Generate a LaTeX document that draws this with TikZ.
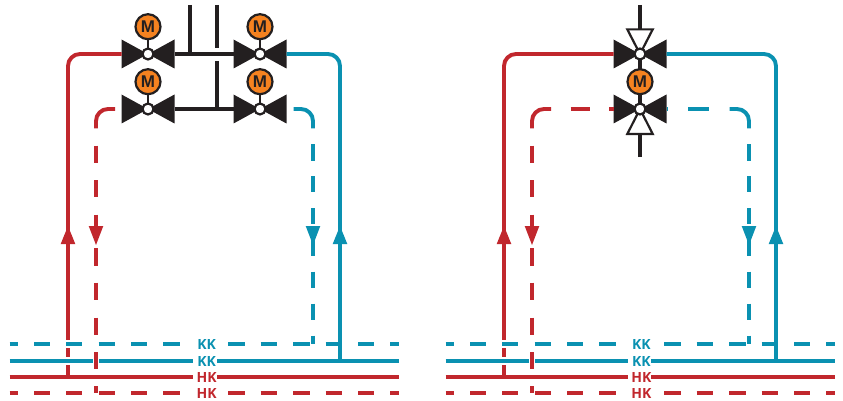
\documentclass[tikz,border=0pt]{standalone}
\usepackage{fontspec}
\setmainfont{Liberation Sans}
\newfontfamily\labelfont{Open Sans}
\definecolor{pipered}{HTML}{C1272D}
\definecolor{pipeblue}{HTML}{0A91B1}
\definecolor{valvedark}{HTML}{231F20}
\definecolor{motororange}{HTML}{F58220}
\tikzset{
  redline/.style={draw=pipered,line width=3.9pt},
  blueline/.style={draw=pipeblue,line width=3.9pt},
  blackline/.style={draw=valvedark,line width=3.6pt},
  stem/.style={draw=valvedark,line width=2.8pt},
  halo/.style={draw=white,line width=8pt},
  valvebody/.style={rectangle,inner sep=0pt,outer sep=0pt,minimum width=53pt,minimum height=29pt,
    path picture={\fill[valvedark] (path picture bounding box.north west)--(path picture bounding box.south east)--(path picture bounding box.north east)--(path picture bounding box.south west)--cycle;}},
  hub/.style={circle,draw=valvedark,fill=white,line width=2.2pt,inner sep=0pt,minimum size=11pt},
  motor/.style={circle,draw=valvedark,fill=motororange,line width=2.2pt,inner sep=0pt,minimum size=25pt,
    font=\fontsize{17}{17}\selectfont\bfseries,text=valvedark},
  tag/.style={inner sep=0pt,font=\labelfont\fontsize{14}{14}\selectfont\bfseries},
  smallvalve/.style={draw=valvedark,fill=white,line width=2.2pt,line join=miter},
  corner/.style={rounded corners=12pt},
}
\begin{document}
\begin{tikzpicture}[x=1pt,y=-1pt]
\useasboundingbox (0,0) rectangle (843,401);
% ---- valve bodies, referred to by the pipes
\node[valvebody] (v1) at (148,54) {};
\node[valvebody] (v2) at (260,54) {};
\node[valvebody] (v3) at (148,109) {};
\node[valvebody] (v4) at (260,109) {};
\node[valvebody] (v5) at (640,54) {};
\node[valvebody] (v6) at (640,109) {};
% ---- pipes of both panels
\foreach \s/\vr/\vb in {0/v1/v2,436/v5/v5}{
  \coordinate (hk\s) at (68+\s,377);
  \coordinate (kk\s) at (340+\s,361);
  \draw[redline,corner] (hk\s) |- (\vr.west);
  \fill[pipered] (60.7+\s,244) -- (68+\s,226) -- (75.3+\s,244) -- cycle;
  \draw[halo] (64+\s,344) -- (72+\s,344);
  \draw[halo] (64+\s,361) -- (72+\s,361);
  \foreach \a/\b in {9.5/17.5,34/50,66.3/82.3,98.7/115,131/147,163.3/180,228/244.7,260.7/277,293/309.7,325.7/342,358/374.3,390.3/399}{
    \draw[blueline] (\a+\s,344) -- (\b+\s,344);
    \draw[redline] (\a+\s,393) -- (\b+\s,393);
  }
  \draw[blueline] (9.5+\s,361) -- (193+\s-1.5*\s/436,361);
  \draw[blueline] (217+\s-2*\s/436,361) -- (399+\s,361);
  \draw[redline] (9.5+\s,377) -- (193+\s-1.5*\s/436,377);
  \draw[redline] (217+\s-2*\s/436,377) -- (399+\s,377);
  \node[tag,text=pipeblue] (a\s) at (206.6+\s-1.2*\s/436,344.5) {KK};
  \node[tag,text=pipeblue] (b\s) at (206.6+\s-1.2*\s/436,361.2) {KK};
  \node[tag,text=pipered] (c\s) at (206.6+\s-1.2*\s/436,377.5) {HK};
  \node[tag,text=pipered] (d\s) at (206.6+\s-1.2*\s/436,393.6) {HK};
  % dashed red return
  \foreach \a/\b in {145.7/162.7,180/197.3,214.7/226,248.3/266,282.7/300,317.7/334.7,386/393.3}{
    \draw[redline] (96+\s,\a) -- (96+\s,\b);
  }
  \draw[draw=white,line width=6pt] (96+\s,357) -- (96+\s,364.5);
  \draw[redline] (96+\s,352) -- (96+\s,369);
  \fill[pipered] (88.7+\s,226) -- (103.3+\s,226) -- (96+\s,245) -- cycle;
  \coordinate (ra\s) at (115+\s,109);
  \coordinate (rb\s) at (96+\s,128.3);
  \draw[redline,corner] (ra\s) -| (rb\s);
  % dashed blue return
  \foreach \a/\b in {144.3/161,176.3/192,208.3/224,226/255.7,271.7/287.7,303.7/319.7,335.7/343.5}{
    \draw[blueline] (313+\s,\a) -- (313+\s,\b);
  }
  \fill[pipeblue] (305.7+\s,226) -- (320.3+\s,226) -- (313+\s,245) -- cycle;
  \coordinate (ba\s) at (293.5+\s,109);
  \coordinate (bb\s) at (313+\s,128.3);
  \draw[blueline,corner] (ba\s) -| (bb\s);
  % solid blue riser
  \draw[blueline,corner] (kk\s) |- (\vb.east);
  \fill[pipeblue] (332.7+\s,244) -- (340+\s,226) -- (347.3+\s,244) -- cycle;
}
% ---- left panel fittings
\coordinate (t1) at (190,5);
\coordinate (t2) at (217,5);
\coordinate (t3) at (217,48.5);
\coordinate (t4) at (217,61);
\draw[blackline] (v1.east) -- (v2.west);
\draw[blackline] (v3.east) -- (v4.west);
\draw[blackline] (t1) -- (t1 |- v1);
\draw[blackline] (t2) -- (t3);
\draw[blackline] (t4) -- (t4 |- v3);
\coordinate (k1) at (148,26.7);
\coordinate (k2) at (260,26.7);
\coordinate (k3) at (148,81.7);
\coordinate (k4) at (260,81.7);
\draw[stem] (k1) -- (v1.center);
\draw[stem] (k2) -- (v2.center);
\draw[stem] (k3) -- (v3.center);
\draw[stem] (k4) -- (v4.center);
\node[motor] (m1) at (k1) {M};
\node[motor] (m2) at (k2) {M};
\node[motor] (m3) at (k3) {M};
\node[motor] (m4) at (k4) {M};
\node[hub] (h1) at (v1) {};
\node[hub] (h2) at (v2) {};
\node[hub] (h3) at (v3) {};
\node[hub] (h4) at (v4) {};
% ---- right panel fittings
\coordinate (b1) at (640,5);
\coordinate (b2) at (640,157);
\coordinate (w1a) at (627.3,29.4);
\coordinate (w1b) at (652.7,29.4);
\coordinate (w2a) at (627.3,134);
\coordinate (w2b) at (652.7,134);
\draw[blackline] (b1) -- (b1 |- w1a);
\draw[blackline] (b2) -- (b2 |- w2a);
\draw[redline] (570.7,109) -- (590,109);
\draw[redline] (609.3,109) -- (v6.west);
\draw[blueline] (v6.east) -- (667.5,109);
\draw[blueline] (688.3,109) -- (709,109);
\draw[smallvalve] (v5.center) -- (w1a) -- (w1b) -- cycle;
\draw[smallvalve] (v6.center) -- (w2a) -- (w2b) -- cycle;
\draw[blackline] (v5.center) -- (v6.center);
\node[motor] (m5) at (640,81.7) {M};
\node[hub] (h5) at (v5) {};
\node[hub] (h6) at (v6) {};
\end{tikzpicture}
\end{document}
